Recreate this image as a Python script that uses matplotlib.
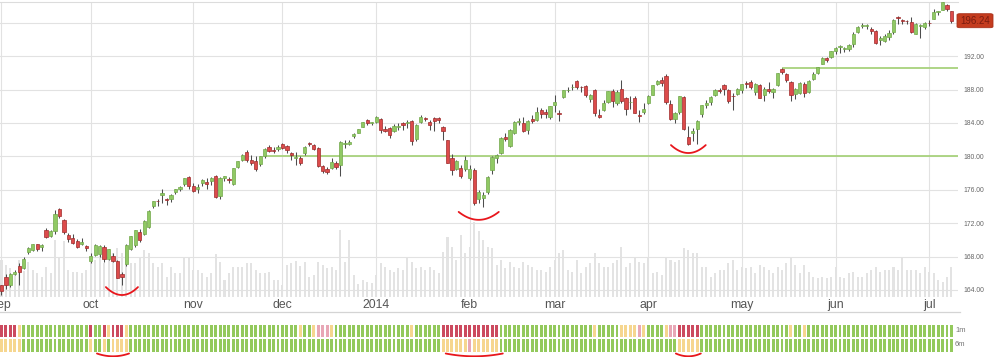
import numpy as np
import pandas as pd
import matplotlib
matplotlib.use("Agg")
import matplotlib.pyplot as plt
from matplotlib.patches import FancyBboxPatch
from matplotlib.lines import Line2D
from matplotlib.ticker import FuncFormatter

plt.rcParams['font.family'] = ['Liberation Sans', 'DejaVu Sans']

# ---------------- data ----------------
HOLIDAYS = ["2013-09-02", "2013-11-28", "2013-12-25", "2014-01-01", "2014-01-20",
            "2014-02-17", "2014-04-18", "2014-05-26", "2014-07-04"]
START, END = "2013-08-30", "2014-07-08"

opens = [
    # Aug30 + Sep
    164.55, 165.50, 164.60, 165.90, 166.85, 166.60, 168.60, 168.80, 169.45, 169.10, 171.20, 170.45, 171.05, 173.65, 172.40, 170.55, 170.25, 169.85, 169.45, 169.30, 167.45,
    # Oct
    168.20, 168.35, 169.10, 167.75, 168.10, 167.45, 165.90, 167.10, 168.90, 169.35, 170.90, 170.70, 171.60, 174.05, 174.70, 175.40, 174.95, 174.95, 175.75, 176.05, 176.70, 177.50, 176.45,
    # Nov
    176.10, 176.75, 176.95, 177.05, 177.65, 175.25, 177.35, 177.30, 176.65, 178.75, 179.60, 180.55, 179.60, 179.45, 179.05, 180.10, 181.15, 180.70, 180.85, 181.45,
    # Dec
    181.20, 180.35, 179.75, 179.85, 180.40, 181.60, 181.30, 180.95, 178.85, 178.45, 178.60, 179.25, 179.00, 181.45, 181.50, 182.45, 182.80, 183.55, 184.35, 184.00, 184.15,
    # Jan
    184.50, 183.25, 183.40, 183.05, 183.50, 184.00, 183.95, 184.20, 182.05, 184.15, 184.50, 184.15, 184.65, 184.55, 183.50, 181.95, 179.75, 178.50, 178.60, 178.50, 177.35,
    # Feb
    178.40, 174.95, 175.00, 175.70, 178.35, 179.75, 180.35, 182.35, 181.20, 182.85, 184.15, 184.05, 183.15, 184.45, 184.30, 185.55, 185.30, 184.70, 186.10,
    # Mar
    185.20, 187.10, 187.90, 188.25, 189.00, 188.35, 188.40, 186.90, 188.00, 184.90, 185.60, 186.50, 187.80, 186.35, 188.10, 186.95, 186.45, 187.00, 184.95, 185.35, 186.35,
    # Apr
    187.35, 188.65, 189.15, 189.65, 186.25, 184.45, 185.35, 187.10, 182.35, 182.75, 183.25, 185.10, 186.10, 186.50, 187.30, 187.95, 188.55, 187.95, 187.20, 187.50, 188.00,
    # May
    188.80, 188.95, 187.70, 188.55, 187.35, 188.05, 187.70, 188.55, 190.45, 189.90, 188.90, 187.50, 187.60, 188.70, 187.65, 189.30, 189.95, 191.10, 191.75, 191.85, 192.65,
    # Jun
    193.10, 192.80, 192.80, 193.40, 194.90, 195.55, 195.55, 195.25, 195.00, 193.90, 193.80, 194.30, 194.85, 196.60, 196.35, 196.20, 196.10, 194.65, 195.60, 195.45, 196.00,
    # Jul
    196.50, 197.25, 197.55, 198.10, 197.35,
]
highs = [
    164.65, 165.95, 166.05, 166.40, 167.20, 167.90, 169.10, 169.55, 169.55, 169.45, 171.45, 171.15, 173.55, 173.80, 172.50, 170.80, 170.65, 170.10, 170.20, 169.40, 168.40,
    169.50, 169.40, 169.35, 168.95, 168.40, 167.65, 166.20, 169.45, 170.50, 171.20, 171.25, 172.35, 173.55, 174.65, 174.85, 176.05, 175.05, 175.45, 176.15, 176.50, 177.40, 177.60, 176.85,
    176.65, 177.25, 177.35, 177.55, 177.80, 177.50, 177.70, 177.55, 178.65, 179.50, 180.30, 180.75, 180.15, 180.05, 180.05, 180.95, 181.30, 181.15, 181.30, 181.65,
    181.35, 180.50, 180.55, 180.00, 181.25, 181.75, 181.50, 181.10, 179.00, 178.70, 179.85, 179.40, 181.85, 181.90, 182.00, 182.75, 183.30, 184.15, 184.45, 184.15, 184.80,
    184.60, 183.60, 183.55, 183.85, 183.95, 184.10, 184.30, 184.35, 183.85, 184.95, 184.75, 184.35, 184.75, 184.75, 183.65, 182.00, 180.25, 179.60, 178.95, 180.05, 179.00,
    178.55, 176.00, 175.70, 177.60, 180.00, 180.25, 182.35, 182.75, 183.25, 184.25, 184.55, 184.75, 184.40, 184.95, 185.95, 185.75, 185.70, 186.05, 187.40,
    185.60, 188.00, 188.25, 188.70, 189.10, 188.45, 188.60, 187.50, 188.10, 185.65, 186.75, 187.85, 188.05, 188.00, 189.15, 187.10, 187.20, 187.25, 185.55, 186.40, 187.30,
    188.55, 189.15, 189.55, 189.80, 186.80, 185.25, 187.25, 187.25, 183.60, 183.35, 184.35, 186.20, 186.75, 187.20, 188.10, 188.15, 188.65, 188.10, 187.60, 188.20, 188.70,
    189.05, 189.15, 188.80, 188.65, 188.25, 188.95, 188.15, 189.95, 190.60, 190.00, 189.00, 188.15, 188.85, 188.85, 189.10, 190.05, 190.70, 191.85, 191.95, 192.65, 193.05,
    193.35, 193.10, 193.50, 194.85, 195.65, 196.00, 195.85, 195.45, 195.15, 194.40, 194.60, 195.10, 196.45, 196.80, 196.45, 196.35, 196.70, 195.95, 195.90, 196.05, 196.35,
    197.60, 197.45, 198.50, 198.20, 197.40,
]
lows = [
    163.35, 164.10, 164.40, 165.75, 164.60, 166.50, 168.30, 168.65, 168.70, 168.70, 170.20, 170.35, 170.70, 172.65, 170.75, 169.80, 169.45, 169.05, 169.35, 168.70, 167.20,
    168.10, 167.95, 167.40, 167.55, 167.35, 165.40, 164.55, 166.90, 168.75, 169.20, 169.80, 170.55, 171.45, 173.85, 174.10, 174.40, 174.15, 174.55, 175.45, 175.85, 176.45, 176.10, 175.70,
    175.65, 176.40, 176.15, 176.60, 175.05, 174.85, 177.10, 176.75, 176.55, 178.60, 179.50, 179.35, 178.95, 178.20, 178.85, 179.85, 180.50, 180.45, 180.70, 180.90,
    180.40, 179.55, 178.95, 178.95, 180.20, 181.25, 180.75, 178.75, 177.95, 177.85, 178.50, 178.50, 177.65, 181.05, 181.40, 182.25, 182.75, 183.50, 183.80, 183.70, 184.05,
    182.80, 182.90, 182.15, 182.90, 183.20, 183.20, 183.35, 181.35, 181.85, 184.00, 184.20, 183.20, 183.00, 183.95, 181.95, 179.20, 177.75, 178.35, 177.45, 178.20, 177.15,
    174.15, 174.45, 173.90, 175.55, 177.85, 179.20, 180.25, 181.85, 181.10, 182.70, 183.75, 182.95, 182.70, 184.05, 184.20, 184.60, 184.60, 184.45, 185.30,
    184.20, 187.00, 187.70, 187.95, 188.10, 187.65, 187.15, 186.55, 184.80, 184.55, 185.45, 186.35, 185.85, 186.10, 186.40, 184.90, 185.70, 185.15, 184.10, 185.10, 186.25,
    187.30, 188.50, 188.40, 186.30, 184.40, 184.00, 185.10, 183.15, 181.35, 181.85, 181.50, 184.70, 185.80, 186.20, 187.25, 187.60, 187.30, 186.35, 185.50, 187.30, 187.60,
    188.20, 188.05, 187.40, 186.95, 186.65, 187.55, 187.00, 188.45, 189.85, 188.95, 186.65, 186.90, 187.45, 187.10, 187.60, 189.20, 189.85, 191.00, 191.35, 191.75, 192.30,
    192.40, 192.45, 192.60, 193.05, 194.80, 195.40, 195.20, 194.70, 193.45, 193.30, 193.65, 193.95, 194.60, 195.90, 195.85, 195.85, 194.80, 194.60, 194.20, 195.25, 195.60,
    196.40, 196.95, 197.50, 197.45, 195.95,
]
closes = [
    163.90, 164.58, 165.91, 166.11, 166.12, 167.77, 169.00, 169.51, 168.94, 169.40, 170.36, 171.08, 173.15, 172.83, 170.89, 170.08, 169.64, 169.18, 169.77, 169.08, 168.06,
    169.40, 169.29, 167.77, 168.95, 167.51, 165.45, 165.54, 169.41, 170.47, 171.16, 169.96, 172.30, 173.47, 174.60, 174.62, 175.62, 174.79, 175.36, 176.13, 176.36, 177.35, 176.48, 175.80,
    176.31, 177.19, 176.70, 177.45, 175.12, 177.46, 177.59, 177.17, 178.60, 179.46, 180.22, 179.55, 179.19, 178.54, 179.99, 180.88, 180.65, 180.68, 181.12, 180.98,
    180.74, 180.17, 179.93, 179.15, 181.16, 181.49, 180.91, 178.87, 178.20, 178.18, 179.30, 178.75, 181.72, 181.61, 181.73, 182.70, 183.23, 184.10, 184.04, 184.01, 184.74,
    183.10, 183.04, 182.58, 183.69, 183.65, 183.71, 184.14, 181.82, 183.79, 184.74, 184.49, 183.77, 184.28, 184.39, 183.05, 179.23, 178.36, 179.45, 177.62, 179.62, 178.46,
    174.39, 175.72, 175.36, 177.54, 179.90, 180.18, 182.18, 182.13, 183.18, 184.06, 184.28, 183.08, 184.18, 184.18, 185.31, 185.06, 185.07, 185.98, 186.50,
    185.12, 187.94, 187.93, 188.25, 188.35, 188.27, 187.31, 187.37, 185.18, 184.66, 186.43, 187.78, 186.63, 187.75, 186.60, 185.69, 186.51, 185.21, 184.85, 185.71, 187.18,
    188.50, 189.04, 188.83, 186.46, 184.45, 185.15, 187.17, 183.26, 181.52, 183.01, 184.25, 186.18, 186.44, 187.14, 187.91, 187.79, 188.11, 186.59, 187.19, 188.08, 188.65,
    188.62, 188.36, 188.72, 187.02, 188.07, 187.81, 188.10, 189.92, 190.05, 189.10, 187.34, 188.04, 188.76, 187.53, 189.05, 189.85, 190.65, 191.79, 191.58, 192.60, 192.96,
    193.10, 193.02, 193.39, 194.65, 195.54, 195.73, 195.68, 194.99, 193.61, 194.22, 194.38, 194.80, 196.30, 196.55, 196.19, 196.16, 194.90, 195.85, 195.62, 196.00, 195.92,
    197.23, 197.36, 198.44, 197.67, 196.24,
]
volumes = [  # millions of shares
    150, 130, 115, 100, 150, 105, 140, 110, 95, 80, 120, 95, 230, 160, 225, 110, 100, 100, 95, 110, 140,
    148, 180, 135, 150, 175, 195, 175, 195, 135, 135, 155, 188, 175, 135, 121, 135, 81, 121, 95, 95, 161, 161, 108,
    108, 95, 81, 95, 172, 141, 68, 95, 121, 121, 121, 135, 135, 108, 95, 95, 101, 68, 68, 50,
    128, 137, 145, 124, 140, 80, 88, 140, 128, 115, 120, 110, 268, 140, 228, 90, 52, 68, 60, 55, 90,
    135, 121, 108, 100, 115, 108, 161, 140, 115, 121, 108, 121, 110, 95, 180, 240, 201, 150, 248, 175, 200,
    300, 265, 230, 200, 195, 130, 150, 115, 140, 120, 115, 140, 130, 120, 110, 110, 100, 120, 150,
    175, 188, 110, 100, 148, 95, 121, 135, 175, 135, 121, 121, 135, 148, 201, 121, 135, 155, 141, 135, 161,
    95, 100, 88, 161, 148, 141, 148, 195, 188, 175, 175, 121, 121, 81, 95, 108, 108, 135, 148, 108, 121,
    115, 121, 95, 128, 121, 108, 95, 121, 108, 135, 161, 128, 95, 128, 101, 81, 75, 81, 75, 81, 121,
    81, 75, 95, 101, 81, 81, 95, 108, 121, 101, 108, 108, 121, 108, 155, 108, 108, 108, 95, 121, 101,
    95, 68, 60, 81, 121,
]
# momentum strip: (state, number of days) runs; g=up, r=down, y=neutral, p=weak down
HEAT_1M = [("r", 4), ("y", 1), ("g", 15), ("r", 1), ("g", 2), ("r", 1), ("y", 1), ("r", 3), ("y", 1),
           ("g", 38), ("y", 1), ("g", 2), ("y", 1), ("p", 3), ("y", 1), ("g", 17), ("y", 1), ("g", 6),
           ("r", 13), ("g", 21), ("y", 1), ("g", 5), ("y", 4), ("p", 1), ("y", 1), ("g", 4), ("y", 1),
           ("p", 2), ("r", 5), ("g", 20), ("y", 1), ("g", 2), ("y", 1), ("g", 33)]
HEAT_6M = [("y", 5), ("g", 15), ("y", 1), ("g", 2), ("y", 1), ("g", 1), ("y", 4), ("g", 70),
           ("y", 6), ("p", 1), ("y", 6), ("g", 40), ("y", 5), ("g", 57)]
HEAT_LABELS = ["1m", "6m"]

MONTH_STARTS = ["2013-09-01", "2013-10-01", "2013-11-01", "2013-12-01", "2014-01-01", "2014-02-01",
                "2014-03-01", "2014-04-01", "2014-05-01", "2014-06-01", "2014-07-01"]
MONTH_LABELS = ["sep", "oct", "nov", "dec", "2014", "feb", "mar", "apr", "may", "jun", "jul"]

LEVELS = [(180.0, "2013-11-22"), (190.6, "2014-05-13")]
# hand-drawn marks: (date, half width in days, gap below the low)
MARKED_LOWS = [("2013-10-09", 3.6, 1.15), ("2014-02-04", 4.5, 1.5), ("2014-04-11", 3.9, 0.95)]
STRIP_MARKS = [("2013-10-07", 3.6), ("2014-02-03", 6.4), ("2014-04-11", 2.8)]
LAST_PRICE_LABEL = "196.24"

# ---------------- build ----------------
dates = pd.bdate_range(START, END)
dates = dates[~dates.isin(pd.to_datetime(HOLIDAYS))]
O, H, L, C = map(np.array, (opens, highs, lows, closes))
V = np.array(volumes, dtype=float)
n = len(dates)
assert n == len(O) == len(H) == len(L) == len(C) == len(V), (n, len(O), len(H), len(L), len(C), len(V))
x = np.arange(n)


def idx(d):
    return int(np.searchsorted(dates, pd.Timestamp(d)))


def expand(runs):
    return "".join(c * k for c, k in runs)


h1, h6 = expand(HEAT_1M), expand(HEAT_6M)
assert len(h1) == n and len(h6) == n, (len(h1), len(h6))

W, HGT = 995, 357
fig = plt.figure(figsize=(W / 100, HGT / 100), dpi=100)

ppu = 8.353  # px per price unit
y_bot_px, y_top_px = 297, 2
ymin = 164 - (y_bot_px - 290) / ppu
ymax = ymin + (y_bot_px - y_top_px) / ppu
xmin = -1.5 / 4.46
xmax = xmin + 958 / 4.46

rect = [0, (HGT - y_bot_px) / HGT, 958 / W, (y_bot_px - y_top_px) / HGT]

# volume (behind)
axv = fig.add_axes(rect)
axv.bar(x, V, width=0.45, color="#e3e3e3", linewidth=0)
axv.set_xlim(xmin, xmax)
axv.set_ylim(0, 4.0 * (y_bot_px - y_top_px))
axv.axis("off")

ax = fig.add_axes(rect)
ax.patch.set_alpha(0)
ax.set_axisbelow(True)

# gridlines / ticks
grid_idx = [idx(m) - 1 for m in MONTH_STARTS]
ax.set_xticks(grid_idx)
ax.set_xticklabels(MONTH_LABELS)
ax.set_yticks(np.arange(164, 197, 4))
ax.yaxis.tick_right()
# the 196 label sits under the last-price box
ax.yaxis.set_major_formatter(FuncFormatter(lambda v, p: "" if v > 195 else f"{v:.2f}"))
ax.grid(True, color="#e2e2e2", lw=0.8)
ax.tick_params(axis="x", length=0, pad=1.5, labelsize=8.8, labelcolor="#555555")
ax.tick_params(axis="y", length=0, pad=3.6, labelsize=4.9, labelcolor="#666666")
for s in ["left", "right", "bottom"]:
    ax.spines[s].set_visible(False)
ax.spines["top"].set_color("#dcdcdc")
ax.spines["top"].set_linewidth(0.8)
ax.set_xlim(xmin, xmax)
ax.set_ylim(ymin, ymax)

# support / resistance levels
for lvl, d in LEVELS:
    ax.hlines(lvl, idx(d), xmax, color="#a8d27d", lw=1.3, zorder=2)

# candles
up = C >= O
ax.vlines(x, L, H, color="#4d4d4d", lw=0.75, zorder=3)
body_bot = np.minimum(O, C)
body_h = np.maximum(np.abs(C - O), 0.09)
ax.bar(x, body_h, bottom=body_bot, width=0.72,
       color=np.where(up, "#90c964", "#dc4b4b"),
       edgecolor=np.where(up, "#72a84a", "#9e2b2b"), linewidth=0.5, zorder=4)

# hand-drawn style arcs under the marked lows
t = np.linspace(-1, 1, 40)
for d, hw, gap in MARKED_LOWS:
    i = idx(d)
    lo = L[max(i - 2, 0):i + 3].min()
    xs = i + hw * t
    ys = (lo - gap) + 0.95 * t ** 2
    ax.plot(xs, ys, color="#e8161c", lw=1.3, zorder=6, solid_capstyle="round", clip_on=False)
ax.set_xlim(xmin, xmax)
ax.set_ylim(ymin, ymax)

# last price box
disp = ax.transData.transform((0, C[-1]))
yf = fig.transFigure.inverted().transform(disp)[1]
bw, bh = 36 / W, 14 / HGT
box = FancyBboxPatch((957 / W, yf - bh / 2), bw, bh, boxstyle="round,pad=0,rounding_size=0.003",
                     transform=fig.transFigure, facecolor="#c43c1f", edgecolor="#a8301a", lw=0.6, zorder=10)
fig.patches.append(box)
fig.text(957 / W + bw / 2, yf, LAST_PRICE_LABEL, ha="center", va="center", fontsize=7,
         color="#7a1c10", zorder=11)

# separator line
fig.add_artist(Line2D([0, 960 / W], [1 - 311.7 / HGT] * 2, color="#d4d4d4", lw=0.9))

# momentum strip
hax = fig.add_axes([0, (HGT - 353) / HGT, 958 / W, 29 / HGT])
hax.set_xlim(xmin, xmax)
hax.set_ylim(0, 29)
hax.axis("off")
cmap = {"g": "#93c95c", "r": "#cc4a5f", "y": "#f6d68f", "p": "#e8a7b6"}
hax.bar(x, 12, bottom=16, width=0.66, color=[cmap[c] for c in h1], linewidth=0)
hax.bar(x, 13, bottom=1, width=0.66, color=[cmap[c] for c in h6], linewidth=0)
fig.text(955 / W, 1 - 330.7 / HGT, HEAT_LABELS[0], fontsize=5.5, color="#777777", va="center")
fig.text(955 / W, 1 - 344 / HGT, HEAT_LABELS[1], fontsize=5.5, color="#777777", va="center")

# arcs under the strip
for d, hw in STRIP_MARKS:
    i = idx(d)
    xs = i + hw * t
    ys = -3.3 + 2.8 * t ** 2
    hax.plot(xs, ys, color="#e8161c", lw=1.3, clip_on=False, solid_capstyle="round")
hax.set_xlim(xmin, xmax)
hax.set_ylim(0, 29)

fig.savefig("out.png", dpi=100)
